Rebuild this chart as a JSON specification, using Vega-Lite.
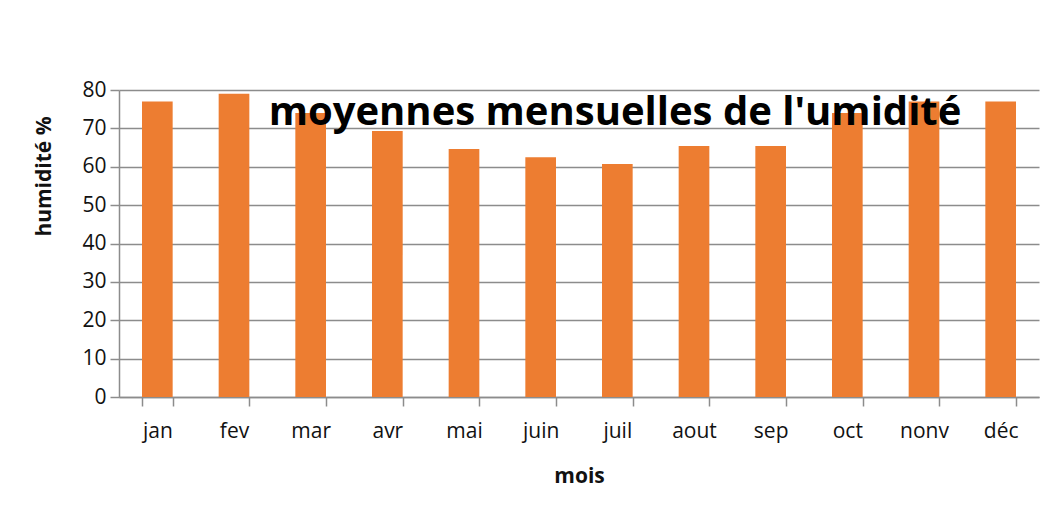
{
  "$schema": "https://vega.github.io/schema/vega-lite/v6.json",
  "width": 920,
  "height": 307,
  "autosize": {"type": "none"},
  "padding": {"left": 119, "top": 90, "right": 5, "bottom": 116},
  "background": "white",
  "title": {
    "text": "moyennes mensuelles de l'umidité",
    "font": "Open Sans",
    "fontSize": 40,
    "fontWeight": "bold",
    "color": "#000000",
    "anchor": "middle",
    "baseline": "alphabetic",
    "offset": -86,
    "dx": 36
  },
  "data": {
    "values": [
      {"mois": "jan", "h": 77},
      {"mois": "fev", "h": 79},
      {"mois": "mar", "h": 74},
      {"mois": "avr", "h": 69.3},
      {"mois": "mai", "h": 64.6},
      {"mois": "juin", "h": 62.5},
      {"mois": "juil", "h": 60.7},
      {"mois": "aout", "h": 65.4},
      {"mois": "sep", "h": 65.4},
      {"mois": "oct", "h": 74},
      {"mois": "nonv", "h": 77},
      {"mois": "déc", "h": 77}
    ]
  },
  "mark": {"type": "bar", "color": "#ED7D31"},
  "encoding": {
    "x": {
      "field": "mois",
      "type": "nominal",
      "sort": null,
      "scale": {"paddingInner": 0.6, "paddingOuter": 0.3},
      "axis": {
        "title": "mois",
        "labelAngle": 0,
        "tickBand": "extent",
        "tickSize": 9,
        "labelPadding": 14,
        "titlePadding": 24
      }
    },
    "y": {
      "field": "h",
      "type": "quantitative",
      "scale": {"domain": [0, 80], "nice": false},
      "axis": {
        "title": "humidité %",
        "values": [0, 10, 20, 30, 40, 50, 60, 70, 80],
        "tickSize": 9,
        "labelPadding": 4,
        "titleX": -75,
        "titleY": 86,
        "titleAlign": "center",
        "titleBaseline": "middle"
      }
    }
  },
  "config": {
    "view": {"stroke": null},
    "axis": {
      "labelFont": "Open Sans",
      "labelFontSize": 21,
      "labelColor": "#111111",
      "titleFont": "Open Sans",
      "titleFontSize": 21,
      "titleFontWeight": "bold",
      "titleColor": "#111111",
      "domainColor": "#8c8c8c",
      "tickColor": "#8c8c8c",
      "gridColor": "#8c8c8c",
      "gridOpacity": 1,
      "domainWidth": 1.5,
      "tickWidth": 1.5,
      "gridWidth": 1.5
    },
    "axisX": {"grid": false},
    "axisY": {"grid": true}
  }
}
